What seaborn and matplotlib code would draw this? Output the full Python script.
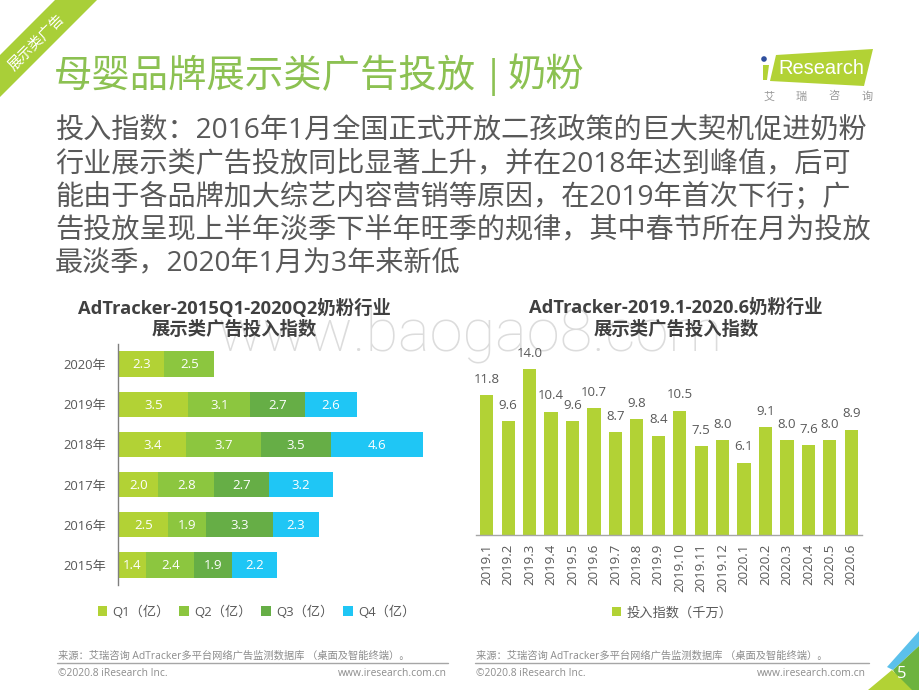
import numpy as np
import pandas as pd
import matplotlib
matplotlib.use("Agg")
import matplotlib.pyplot as plt
from matplotlib.patches import Polygon, Circle
import seaborn as sns

# left chart: quarterly spend per year
years = ["2020年", "2019年", "2018年", "2017年", "2016年", "2015年"]
q1 = [2.3, 3.5, 3.4, 2.0, 2.5, 1.4]
q2 = [2.5, 3.1, 3.7, 2.8, 1.9, 2.4]
q3 = [0, 2.7, 3.5, 2.7, 3.3, 1.9]
q4 = [0, 2.6, 4.6, 3.2, 2.3, 2.2]
quarter_labels = ["Q1（亿）", "Q2（亿）", "Q3（亿）", "Q4（亿）"]
quarter_colors = ["#B2D235", "#8CC63F", "#66AE46", "#1FC6F5"]

# right chart: monthly index
months = ["2019.1", "2019.2", "2019.3", "2019.4", "2019.5", "2019.6", "2019.7", "2019.8", "2019.9",
          "2019.10", "2019.11", "2019.12", "2020.1", "2020.2", "2020.3", "2020.4", "2020.5", "2020.6"]
month_values = [11.8, 9.6, 14.0, 10.4, 9.6, 10.7, 8.7, 9.8, 8.4, 10.5, 7.5, 8.0, 6.1, 9.1, 8.0, 7.6, 8.0, 8.9]

page_title = "母婴品牌展示类广告投放"
page_subject = "奶粉"
body_lines = [
    "投入指数：2016年1月全国正式开放二孩政策的巨大契机促进奶粉",
    "行业展示类广告投放同比显著上升，并在2018年达到峰值，后可",
    "能由于各品牌加大综艺内容营销等原因，在2019年首次下行；广",
    "告投放呈现上半年淡季下半年旺季的规律，其中春节所在月为投放",
    "最淡季，2020年1月为3年来新低",
]
source_text = "来源：艾瑞咨询 AdTracker多平台网络广告监测数据库 （桌面及智能终端）。"

W, H = 920, 690
sns.set_theme(style="white")
# Open Sans for latin and digits, CJK family picks up the rest
plt.rcParams["font.family"] = ["Open Sans", "Noto Sans CJK SC", "DejaVu Sans"]
plt.rcParams["axes.unicode_minus"] = False

fig = plt.figure(figsize=(W / 100, H / 100), dpi=100)

# full-size overlay in pixel coordinates for the slide furniture
bg = fig.add_axes([0, 0, 1, 1], zorder=0)
bg.set_xlim(0, W)
bg.set_ylim(H, 0)
bg.axis("off")


def axes_px(x0, y0, x1, y1):
    return fig.add_axes([x0 / W, 1 - y1 / H, (x1 - x0) / W, (y1 - y0) / H], zorder=2, facecolor="none")


GREY = "#595959"
FOOT = "#8C8C8C"
TITLE = "#404040"

# watermark
bg.text(218, 352, "www.baogao8.com", fontsize=43, color="#DCDCDC", ha="left", va="baseline",
        family="Roboto", weight="light")

# corner ribbon
bg.add_patch(Polygon([(55, 0), (97, 0), (0, 97), (0, 55)], color="#A9CF38", lw=0))
bg.text(37, 43, "展示类广告", fontsize=10.5, color="white", rotation=45, ha="center", va="center",
        rotation_mode="anchor")

# title + body
bg.text(54, 77, page_title, fontsize=27.6, color="#8CC152", ha="left", va="center")
bg.text(483, 77, "|", fontsize=27.6, color="#8CC152", ha="left", va="center")
bg.text(508, 77, page_subject, fontsize=27.6, color="#8CC152", ha="left", va="center")
for i, line in enumerate(body_lines):
    bg.text(55, 130 + i * 33.7, line, fontsize=20.27, color=GREY, ha="left", va="center")

# logo
bg.add_patch(Polygon([(776, 55), (873, 49), (864, 86), (770, 81)], color="#B2D235", lw=0))
bg.add_patch(Polygon([(763, 65), (769, 65), (767, 80), (763, 80)], color="#B2D235", lw=0))
bg.add_patch(Circle((764, 59), 2.8, color="#2F4F9E", lw=0))
bg.text(778, 69, "Research", fontsize=14.4, color="white", ha="left", va="center", family="Liberation Sans")
for x, ch in zip([769, 801, 834, 867], "艾瑞咨询"):
    bg.text(x, 97, ch, fontsize=8, color="#999999", ha="center", va="center")

# ----- left chart -----
ax1 = axes_px(118.3, 344, 438, 585)
left = np.zeros(len(years))
for vals, color, label in zip([q1, q2, q3, q4], quarter_colors, quarter_labels):
    df = pd.DataFrame({"year": years, "value": vals, "left": left})
    sns.barplot(data=df, y="year", x="value", order=years, color=color, saturation=1, width=0.63,
                left=df["left"].values, label=label, linewidth=0, ax=ax1)
    for i, v in enumerate(vals):
        if v > 0:
            ax1.text(left[i] + v / 2, i + 0.02, f"{v:.1f}", color="white", fontsize=9.5, ha="center", va="center")
    left = left + np.array(vals)

ax1.set_xlim(0, 319.7 / 20.03)
ax1.set_ylim(5.5, -0.5)
ax1.set_xlabel("")
ax1.set_ylabel("")
ax1.xaxis.set_visible(False)
ax1.tick_params(axis="y", length=0, pad=9, labelsize=9.4, labelcolor=GREY)
for side in ["top", "right", "bottom"]:
    ax1.spines[side].set_visible(False)
ax1.spines["left"].set_color("#7F7F7F")
ax1.spines["left"].set_linewidth(1)
ax1.legend(loc="center left", bbox_to_anchor=(-0.065, -0.112), ncol=4, frameon=False, fontsize=9.5,
           labelcolor=GREY, handlelength=0.75, handleheight=0.75, handletextpad=0.4, columnspacing=0.7,
           borderpad=0, borderaxespad=0)

bg.text(234, 308, "AdTracker-2015Q1-2020Q2奶粉行业", fontsize=13.2, color=TITLE, weight="bold",
        ha="center", va="center")
bg.text(234, 330, "展示类广告投入指数", fontsize=13.2, color=TITLE, weight="bold", ha="center", va="center")

# ----- right chart -----
ax2 = axes_px(476, 350, 862, 535)
monthly = pd.DataFrame({"month": months, "value": month_values})
sns.barplot(data=monthly, x="month", y="value", color=quarter_colors[0], saturation=1, width=0.62,
            linewidth=0, label="投入指数（千万）", ax=ax2)
for i, v in enumerate(month_values):
    ax2.annotate(f"{v:.1f}", (i, v), xytext=(0, 11.5), textcoords="offset points", fontsize=9.5,
                 color=GREY, ha="center", va="center", annotation_clip=False)
ax2.set_ylim(0, 185 / 11.83)
ax2.set_xlim(-0.5, 17.5)
ax2.set_xlabel("")
ax2.set_ylabel("")
ax2.yaxis.set_visible(False)
ax2.tick_params(axis="x", length=0, pad=6, labelsize=9.5, labelcolor=GREY, labelrotation=90)
for side in ["top", "right", "left"]:
    ax2.spines[side].set_visible(False)
ax2.spines["bottom"].set_color("#A6A6A6")
ax2.spines["bottom"].set_linewidth(1)
ax2.legend(loc="center", bbox_to_anchor=(0.508, -0.42), frameon=False, fontsize=9.5, labelcolor=GREY,
           handlelength=0.75, handleheight=0.75, handletextpad=0.4, borderpad=0, borderaxespad=0)

bg.text(676, 308, "AdTracker-2019.1-2020.6奶粉行业", fontsize=13.2, color=TITLE, weight="bold",
        ha="center", va="center")
bg.text(676, 330, "展示类广告投入指数", fontsize=13.2, color=TITLE, weight="bold", ha="center", va="center")

# ----- footers -----
for x0, x1, url_right in [(58, 448, 447), (476, 869, 866)]:
    bg.text(x0, 656, source_text, fontsize=7.4, color=FOOT, ha="left", va="center")
    bg.plot([x0 - 1, x1], [662.5, 662.5], color="#A6A6A6", lw=1)
    bg.text(x0, 674, "©2020.8 iResearch Inc.", fontsize=7.4, color=FOOT, ha="left", va="center")
    bg.text(url_right, 674, "www.iresearch.com.cn", fontsize=7.4, color=FOOT, ha="right", va="center")

# bottom-right corner decoration
bg.add_patch(Polygon([(887, 667), (920, 630), (920, 645), (893, 670)], color="#5BC0EB", lw=0))
bg.add_patch(Polygon([(893, 670), (920, 645), (920, 690), (905, 690)], color="#6DB33F", lw=0))
bg.add_patch(Polygon([(868, 690), (892, 670), (912, 690)], color="#B2D235", lw=0))
bg.text(902, 674, "5", fontsize=12, color="white", ha="center", va="center")

fig.savefig("out.png", dpi=100)
